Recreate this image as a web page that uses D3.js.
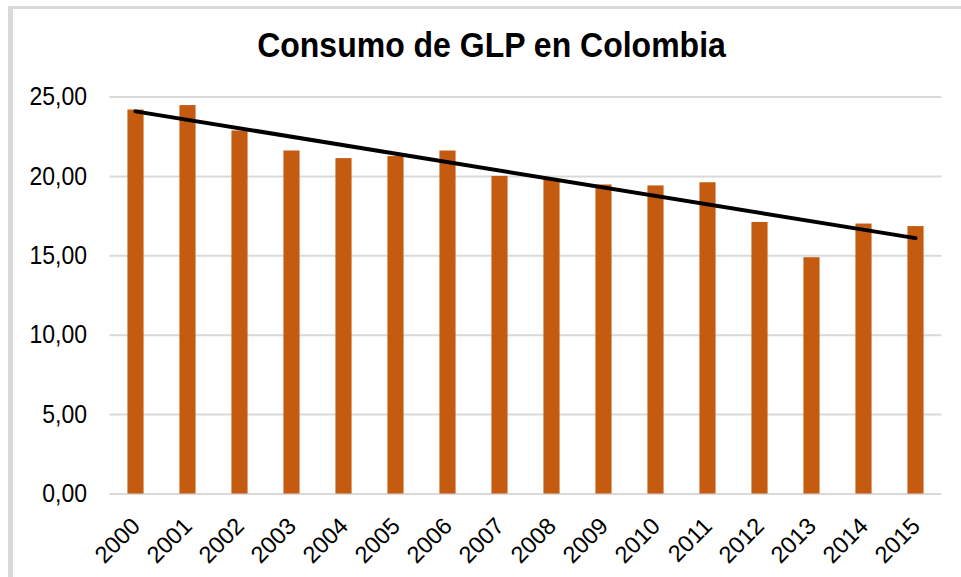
<!DOCTYPE html>
<html><head><meta charset="utf-8">
<script src="https://cdn.jsdelivr.net/npm/d3@7"></script>
<style>html,body{margin:0;padding:0;background:#fff;overflow:hidden}</style>
</head><body>
<svg id="chart" width="961" height="577"></svg>
<script>
const title = "Consumo de GLP en Colombia";
const years = ["2000","2001","2002","2003","2004","2005","2006","2007","2008","2009","2010","2011","2012","2013","2014","2015"];
const consumo = [24.18,24.46,22.86,21.6,21.12,21.25,21.6,20.0,19.8,19.46,19.4,19.6,17.1,14.88,17.0,16.84];
const yTicks = [0,5,10,15,20,25];

const svg = d3.select("#chart");
const W = 961, H = 577;
const m = {left:109.5, right:W-941.5, top:96.5, bottom:H-493.5};
const FONT = "Liberation Sans, Arial, sans-serif";

svg.append("rect").attr("width",W).attr("height",H).attr("fill","#fff");
// frame
svg.append("line").attr("x1",8).attr("x2",W+5).attr("y1",7.5).attr("y2",7.5).attr("stroke","#d9d9d9").attr("stroke-width",3);
svg.append("line").attr("x1",10.5).attr("x2",10.5).attr("y1",6).attr("y2",H+5).attr("stroke","#d9d9d9").attr("stroke-width",5);

const x = d3.scaleBand().domain(years).range([m.left, W-m.right]).paddingInner(0.69).paddingOuter(0.345);
const y = d3.scaleLinear().domain([0,25]).range([H-m.bottom, m.top]);

// grid
const gy = svg.append("g").attr("transform",`translate(${m.left},0)`)
  .call(d3.axisLeft(y).tickValues(yTicks).tickSize(-(W-m.left-m.right)).tickFormat(""));
gy.select(".domain").remove();
gy.selectAll(".tick line").attr("stroke","#d9d9d9").attr("stroke-width",2);

// y labels
const ya = svg.append("g").attr("transform",`translate(87,0)`)
  .call(d3.axisLeft(y).tickValues(yTicks).tickSize(0).tickPadding(0).tickFormat(d=>d.toFixed(2).replace(".",",")));
ya.select(".domain").remove();
ya.selectAll("text").attr("font-family",FONT).attr("font-size",23).attr("fill","#000")
  .attr("transform","scale(1,1.1)");

// bars
svg.append("g").selectAll("rect").data(years).join("rect")
  .attr("x",d=>x(d)).attr("width",x.bandwidth())
  .attr("y",(d,i)=>y(consumo[i])).attr("height",(d,i)=>y(0)-y(consumo[i]))
  .attr("fill","#C55A11");

// linear trendline
const n = consumo.length;
const xs = d3.range(n);
const mx = d3.mean(xs), my = d3.mean(consumo);
const slope = d3.sum(xs,(xi,i)=>(xi-mx)*(consumo[i]-my))/d3.sum(xs,xi=>(xi-mx)*(xi-mx));
const icpt = my - slope*mx;
const trend = [0,n-1].map(i=>({yr:years[i], v:icpt+slope*i}));
svg.append("path").datum(trend)
  .attr("d",d3.line().x(d=>x(d.yr)+x.bandwidth()/2).y(d=>y(d.v)))
  .attr("stroke","#000").attr("stroke-width",4).attr("fill","none").attr("stroke-linecap","round");

// x labels
const xa = svg.append("g").attr("transform",`translate(0,${H-m.bottom})`)
  .call(d3.axisBottom(x).tickSize(0).tickPadding(0));
xa.select(".domain").remove();
xa.selectAll("text")
  .attr("font-family",FONT).attr("font-size",23.5).attr("fill","#000")
  .attr("text-anchor","end").attr("dy",0).attr("y",0)
  .attr("transform","translate(6,34) rotate(-45)");

svg.append("g").attr("transform","translate(491.5,57) scale(1,1.08)")
  .append("text").attr("x",0).attr("y",0).attr("text-anchor","middle")
  .attr("font-family",FONT).attr("font-weight","bold").attr("font-size",32)
  .attr("fill","#000").text(title);
</script>
</body></html>
